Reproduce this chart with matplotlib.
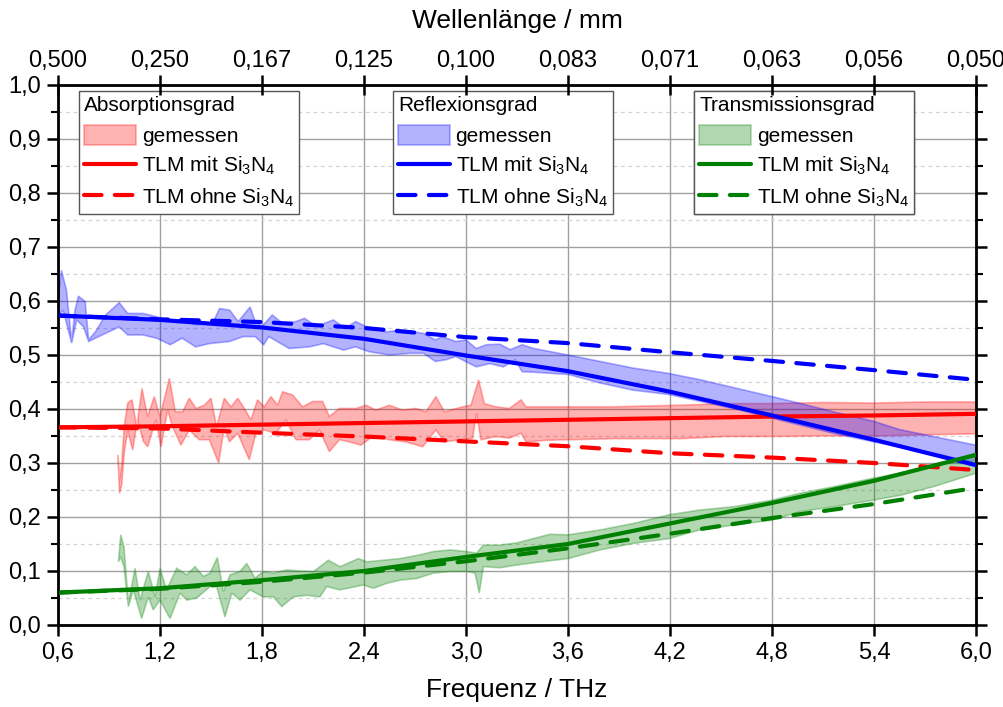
import numpy as np
import matplotlib.pyplot as plt
from matplotlib.ticker import MultipleLocator, FuncFormatter

plt.rcParams['font.family'] = ['Liberation Sans', 'DejaVu Sans']
plt.rcParams['mathtext.fontset'] = 'custom'
plt.rcParams['mathtext.rm'] = 'Liberation Sans'
plt.rcParams['mathtext.it'] = 'Liberation Sans:italic'

# Messbereiche (Frequenz in THz, Grad)
R_up_f = [0.60, 0.62, 0.65, 0.68, 0.70, 0.72, 0.76, 0.78, 0.82, 0.88,
          0.96, 1.01, 1.10, 1.18, 1.26, 1.33, 1.41, 1.51, 1.55, 1.61,
          1.66, 1.73, 1.76, 1.80, 1.86, 1.92, 2.00, 2.05, 2.12, 2.22,
          2.29, 2.35, 2.41, 2.53, 2.63, 2.75, 2.82, 2.86, 2.94, 3.00,
          3.06, 3.12, 3.20, 3.26, 3.33, 3.40, 3.60, 3.79, 3.98, 4.19,
          4.38, 4.57, 4.80, 4.97, 5.16, 5.40, 5.55, 5.75, 6.00]
R_up = [0.600, 0.657, 0.620, 0.525, 0.583, 0.609, 0.599, 0.528, 0.543, 0.574,
        0.597, 0.577, 0.577, 0.571, 0.562, 0.565, 0.556, 0.559, 0.586, 0.583,
        0.562, 0.589, 0.562, 0.553, 0.574, 0.559, 0.562, 0.568, 0.553, 0.565,
        0.549, 0.562, 0.553, 0.543, 0.546, 0.540, 0.528, 0.534, 0.525, 0.528,
        0.512, 0.519, 0.520, 0.510, 0.519, 0.512, 0.500, 0.488, 0.476, 0.466,
        0.454, 0.440, 0.423, 0.410, 0.395, 0.377, 0.362, 0.349, 0.333]
R_lo_f = [0.60, 0.63, 0.68, 0.71, 0.75, 0.78, 0.82, 0.88, 0.96, 1.01,
          1.10, 1.18, 1.26, 1.33, 1.41, 1.49, 1.61, 1.69, 1.76, 1.81,
          1.84, 1.96, 2.08, 2.16, 2.28, 2.35, 2.43, 2.55, 2.67, 2.75,
          2.82, 2.88, 2.94, 3.06, 3.14, 3.22, 3.29, 3.33, 3.40, 3.60,
          3.79, 3.98, 4.19, 4.38, 4.57, 4.80, 5.16, 5.40, 5.75, 6.00]
R_lo = [0.571, 0.583, 0.522, 0.565, 0.552, 0.525, 0.531, 0.540, 0.552, 0.537,
        0.537, 0.531, 0.519, 0.531, 0.515, 0.521, 0.525, 0.534, 0.534, 0.519,
        0.534, 0.512, 0.515, 0.521, 0.509, 0.515, 0.506, 0.500, 0.503, 0.503,
        0.488, 0.491, 0.497, 0.478, 0.484, 0.478, 0.491, 0.469, 0.468, 0.464,
        0.448, 0.435, 0.427, 0.414, 0.401, 0.383, 0.355, 0.339, 0.318, 0.300]

A_up_f = [0.953, 0.962, 0.975, 0.99, 1.01, 1.035, 1.063, 1.094, 1.127, 1.166,
          1.20, 1.255, 1.29, 1.333, 1.372, 1.412, 1.461, 1.50, 1.533, 1.578,
          1.618, 1.657, 1.696, 1.735, 1.774, 1.813, 1.853, 1.892, 1.921, 1.98,
          2.039, 2.098, 2.157, 2.196, 2.255, 2.353, 2.412, 2.47, 2.549, 2.627,
          2.706, 2.765, 2.823, 2.873, 2.98, 3.029, 3.074, 3.108, 3.176, 3.255,
          3.324, 3.353, 3.474, 3.866, 4.259, 4.53, 4.8, 5.1, 5.4, 5.7,
          6.0]
A_up = [0.315, 0.27, 0.30, 0.37, 0.411, 0.417, 0.367, 0.438, 0.386, 0.423,
        0.386, 0.457, 0.395, 0.395, 0.420, 0.401, 0.407, 0.420, 0.367, 0.420,
        0.404, 0.420, 0.401, 0.380, 0.417, 0.404, 0.423, 0.407, 0.432, 0.426,
        0.404, 0.414, 0.414, 0.386, 0.401, 0.401, 0.407, 0.398, 0.407, 0.398,
        0.401, 0.395, 0.423, 0.395, 0.404, 0.407, 0.454, 0.410, 0.404, 0.401,
        0.417, 0.404, 0.404, 0.404, 0.407, 0.410, 0.410, 0.412, 0.411, 0.413,
        0.413]
A_lo_f = [0.953, 0.962, 0.975, 0.99, 1.01, 1.039, 1.068, 1.102, 1.127, 1.176,
          1.206, 1.245, 1.274, 1.323, 1.372, 1.431, 1.49, 1.545, 1.578, 1.608,
          1.657, 1.725, 1.764, 1.813, 1.882, 1.941, 2.0, 2.078, 2.137, 2.196,
          2.255, 2.314, 2.382, 2.451, 2.549, 2.647, 2.745, 2.823, 2.873, 2.961,
          3.039, 3.062, 3.088, 3.176, 3.255, 3.324, 3.353, 3.474, 3.866, 4.259,
          4.53, 4.8, 5.1, 5.4, 5.7, 6.0]
A_lo = [0.305, 0.244, 0.26, 0.32, 0.36, 0.324, 0.380, 0.340, 0.330, 0.380,
        0.330, 0.398, 0.367, 0.333, 0.361, 0.343, 0.343, 0.300, 0.367, 0.339,
        0.355, 0.306, 0.355, 0.361, 0.355, 0.380, 0.343, 0.343, 0.361, 0.321,
        0.343, 0.339, 0.333, 0.349, 0.343, 0.339, 0.330, 0.361, 0.339, 0.343,
        0.346, 0.392, 0.343, 0.349, 0.346, 0.355, 0.339, 0.342, 0.345, 0.345,
        0.349, 0.349, 0.350, 0.350, 0.352, 0.354]

T_up_f = [0.955, 0.969, 0.988, 1.014, 1.053, 1.082, 1.131, 1.171, 1.20, 1.239,
          1.298, 1.357, 1.406, 1.455, 1.494, 1.537, 1.573, 1.612, 1.671, 1.71,
          1.759, 1.808, 1.867, 1.945, 2.024, 2.102, 2.141, 2.19, 2.259, 2.367,
          2.416, 2.514, 2.612, 2.729, 2.808, 2.906, 3.004, 3.063, 3.102, 3.2,
          3.298, 3.396, 3.494, 3.602, 3.788, 3.984, 4.194, 4.376, 4.573, 4.798,
          4.965, 5.161, 5.396, 5.553, 5.749, 6.0]
T_up = [0.117, 0.167, 0.145, 0.040, 0.105, 0.046, 0.099, 0.052, 0.105, 0.065,
        0.105, 0.093, 0.108, 0.090, 0.096, 0.125, 0.062, 0.093, 0.099, 0.114,
        0.087, 0.099, 0.096, 0.102, 0.100, 0.099, 0.108, 0.120, 0.108, 0.123,
        0.117, 0.120, 0.123, 0.130, 0.136, 0.139, 0.136, 0.133, 0.148, 0.148,
        0.152, 0.160, 0.168, 0.167, 0.176, 0.188, 0.204, 0.213, 0.219, 0.231,
        0.244, 0.256, 0.272, 0.281, 0.296, 0.318]
T_lo_f = [0.955, 0.969, 0.988, 1.014, 1.043, 1.092, 1.131, 1.16, 1.20, 1.259,
          1.318, 1.357, 1.416, 1.494, 1.533, 1.582, 1.622, 1.671, 1.729, 1.808,
          1.867, 1.916, 1.984, 2.063, 2.141, 2.18, 2.259, 2.396, 2.455, 2.533,
          2.612, 2.71, 2.808, 2.906, 3.004, 3.053, 3.078, 3.102, 3.2, 3.298,
          3.396, 3.494, 3.602, 3.788, 3.984, 4.194, 4.376, 4.573, 4.798, 4.965,
          5.161, 5.396, 5.553, 5.749, 6.0]
T_lo = [0.117, 0.126, 0.108, 0.034, 0.065, 0.012, 0.052, 0.028, 0.046, 0.012,
        0.059, 0.046, 0.050, 0.071, 0.071, 0.015, 0.059, 0.046, 0.065, 0.052,
        0.052, 0.034, 0.052, 0.055, 0.052, 0.071, 0.065, 0.074, 0.068, 0.077,
        0.083, 0.086, 0.096, 0.099, 0.099, 0.096, 0.059, 0.108, 0.106, 0.111,
        0.115, 0.119, 0.123, 0.139, 0.151, 0.160, 0.176, 0.185, 0.194, 0.210,
        0.219, 0.231, 0.240, 0.256, 0.281]

# TLM Modell
f_tlm = [0.6, 1.2, 1.8, 2.4, 3.0, 3.6, 4.2, 4.8, 5.4, 6.0]
A_mit = [0.366, 0.368, 0.371, 0.374, 0.377, 0.380, 0.383, 0.386, 0.388, 0.391]
A_ohne = [0.366, 0.364, 0.356, 0.349, 0.340, 0.331, 0.318, 0.310, 0.300, 0.287]
R_mit = [0.573, 0.565, 0.551, 0.530, 0.499, 0.470, 0.432, 0.388, 0.343, 0.296]
R_ohne = [0.573, 0.566, 0.561, 0.550, 0.533, 0.522, 0.505, 0.489, 0.472, 0.454]
T_mit = [0.060, 0.068, 0.083, 0.100, 0.126, 0.150, 0.188, 0.226, 0.267, 0.315]
T_ohne = [0.060, 0.067, 0.080, 0.097, 0.118, 0.142, 0.169, 0.198, 0.224, 0.254]

x_ticks = [0.6, 1.2, 1.8, 2.4, 3.0, 3.6, 4.2, 4.8, 5.4, 6.0]

fig = plt.figure(figsize=(10.04, 7.07), dpi=100)
ax = fig.add_axes([0.0578, 0.116, 0.9143, 0.7638])


def band(f_up, up, f_lo, lo, farbe):
    xs = np.concatenate([f_up, f_lo[::-1]])
    ys = np.concatenate([up, lo[::-1]])
    poly = ax.fill(xs, ys, facecolor=farbe, alpha=0.3, edgecolor=farbe,
                   linewidth=1.2, zorder=2)[0]
    return poly


def tlm(werte, farbe, ls):
    if ls == "-":
        line, = ax.plot(f_tlm, werte, color=farbe, lw=3, zorder=3,
                        solid_capstyle="round")
    else:
        line, = ax.plot(f_tlm, werte, color=farbe, lw=3, zorder=3,
                        dashes=(4.2, 3.2), dash_capstyle="round")
    return line


pA = band(A_up_f, A_up, A_lo_f, A_lo, "red")
pR = band(R_up_f, R_up, R_lo_f, R_lo, "blue")
pT = band(T_up_f, T_up, T_lo_f, T_lo, "green")

lA1 = tlm(A_mit, "red", "-")
lA2 = tlm(A_ohne, "red", "--")
lR1 = tlm(R_mit, "blue", "-")
lR2 = tlm(R_ohne, "blue", "--")
lT1 = tlm(T_mit, "green", "-")
lT2 = tlm(T_ohne, "green", "--")

ax.set_xlim(0.6, 6.0)
ax.set_ylim(0.0, 1.0)
ax.set_xticks(x_ticks)
ax.yaxis.set_major_locator(MultipleLocator(0.1))
ax.yaxis.set_minor_locator(MultipleLocator(0.05))
komma = FuncFormatter(lambda v, p: f"{v:.1f}".replace(".", ","))
ax.xaxis.set_major_formatter(komma)
ax.yaxis.set_major_formatter(komma)

ax.set_axisbelow(True)
ax.grid(which="major", color="#a0a0a0", lw=1)
ax.grid(which="minor", axis="y", color="#d4d4d4", lw=0.9, ls=(0, (3, 3)))

ax.tick_params(which="major", direction="out", length=8, width=1.8,
               labelsize=17, right=True, top=False, pad=4)
ax.tick_params(which="minor", direction="out", length=5, width=1.5,
               right=True, top=False)
for s in ax.spines.values():
    s.set_linewidth(2)

ax.set_xlabel("Frequenz / THz", fontsize=19, labelpad=10)

ax2 = ax.twiny()
ax2.set_xlim(0.6, 6.0)
ax2.set_xticks(x_ticks)
ax2.set_xticklabels([f"{0.3 / f + 1e-9:.3f}".replace(".", ",") for f in x_ticks])
ax2.tick_params(direction="inout", length=14, width=1.8, labelsize=17, pad=2)
ax2.set_xlabel("Wellenlänge / mm", fontsize=19, labelpad=16)

labels = ["gemessen", "TLM mit Si$_3$N$_4$", "TLM ohne Si$_3$N$_4$"]
gruppen = [([pA, lA1, lA2], "Absorptionsgrad", 0.023),
           ([pR, lR1, lR2], "Reflexionsgrad", 0.365),
           ([pT, lT1, lT2], "Transmissionsgrad", 0.693)]

for handles, titel, x0 in gruppen:
    leg = ax.legend(handles, labels, title=titel, loc="upper left",
                    bbox_to_anchor=(x0, 0.989), alignment="left",
                    fontsize=15, title_fontsize=15, fancybox=False,
                    edgecolor="#555555", framealpha=1, borderpad=0.25,
                    labelspacing=0.45, handlelength=2.5, handleheight=1.1,
                    handletextpad=0.25, borderaxespad=0)
    leg.get_frame().set_linewidth(1)
    ax.add_artist(leg)

plt.savefig("out.png", dpi=100)
